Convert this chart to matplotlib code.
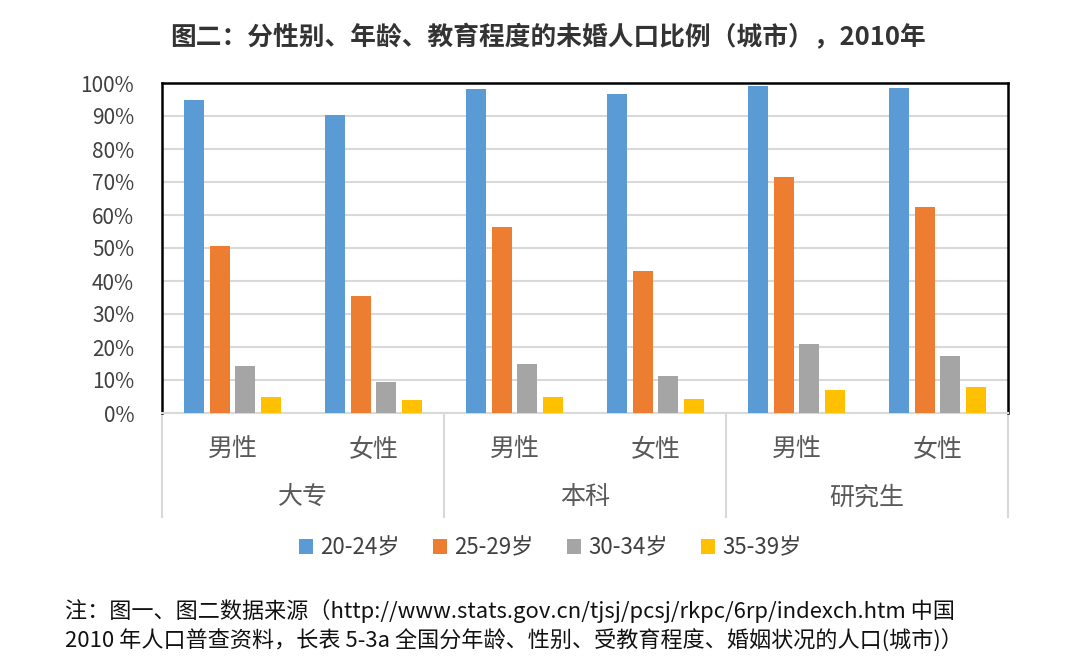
import numpy as np
import matplotlib
matplotlib.use("Agg")
import matplotlib.pyplot as plt
import matplotlib.transforms as mtransforms

plt.rcParams['font.family'] = ['Noto Sans CJK SC', 'DejaVu Sans']

# data (percent)
levels = ['大专', '本科', '研究生']
genders = ['男性', '女性']
series = ['20-24岁', '25-29岁', '30-34岁', '35-39岁']
age_20_24 = [94.8, 90.4, 98.3, 96.7, 99.0, 98.4]
age_25_29 = [50.7, 35.5, 56.4, 42.9, 71.6, 62.5]
age_30_34 = [14.2, 9.5, 15.0, 11.2, 20.9, 17.3]
age_35_39 = [4.8, 3.9, 4.7, 4.2, 6.9, 8.0]
colors = ['#5B9BD5', '#ED7D31', '#A5A5A5', '#FFC000']

title = '图二：分性别、年龄、教育程度的未婚人口比例（城市），2010年'
note1 = '注：图一、图二数据来源（http://www.stats.gov.cn/tjsj/pcsj/rkpc/6rp/indexch.htm 中国'
note2 = '2010 年人口普查资料，长表 5-3a 全国分年龄、性别、受教育程度、婚姻状况的人口(城市)）'

fig = plt.figure(figsize=(10.85, 6.67), dpi=100)
ax = fig.add_axes([162 / 1085, 1 - 413 / 667, (1008 - 162) / 1085, 330 / 667])

x = np.arange(len(levels) * len(genders))
width = 0.142
step = 0.182
for i, (vals, name) in enumerate(zip([age_20_24, age_25_29, age_30_34, age_35_39], series)):
    ax.bar(x + (i - 1.5) * step, vals, width, color=colors[i], label=name, zorder=3)

ax.set_xlim(-0.5, len(x) - 0.5)
ax.set_ylim(0, 100)
ax.set_yticks(np.arange(0, 101, 10))
ax.set_yticklabels([f'{v}%' for v in range(0, 101, 10)])
ax.yaxis.grid(True, color='#D9D9D9', linewidth=1.5, zorder=0)
ax.tick_params(axis='y', length=0, pad=20, labelsize=15, labelcolor='#404040')

ax.set_xticks(x)
ax.set_xticklabels(genders * len(levels))
ax.tick_params(axis='x', length=0, pad=17, labelsize=18, labelcolor='#595959')

for side in ['top', 'left', 'right']:
    ax.spines[side].set_color('black')
    ax.spines[side].set_linewidth(1.8)
ax.spines['bottom'].set_color('#D9D9D9')
ax.spines['bottom'].set_linewidth(1.5)

# group separators and group labels
trans = mtransforms.blended_transform_factory(ax.transData, ax.transAxes)
for k in range(len(levels) + 1):
    xs = k * len(genders) - 0.5
    ax.plot([xs, xs], [0, -0.315], transform=trans, color='#D9D9D9',
            linewidth=1.5, clip_on=False)
for k, lv in enumerate(levels):
    ax.text(k * len(genders) + 0.5, -0.255, lv, transform=trans, ha='center',
            va='center', fontsize=18, color='#595959')

fig.text(0.505, 1 - 38 / 667, title, ha='center', va='center',
         fontsize=18.5, fontweight='bold', color='#333333')

fig.legend(loc='center', bbox_to_anchor=(0.507, 1 - 548 / 667), ncol=4,
           frameon=False, fontsize=16, handlelength=0.65, handleheight=0.65,
           handletextpad=0.3, columnspacing=1.5, labelcolor='#404040')

fig.text(65 / 1085, 1 - 611 / 667, note1, ha='left', va='center', fontsize=15.9, color='#111111')
fig.text(65 / 1085, 1 - 641 / 667, note2, ha='left', va='center', fontsize=15.9, color='#111111')

fig.savefig('out.png', dpi=100, facecolor='white')
